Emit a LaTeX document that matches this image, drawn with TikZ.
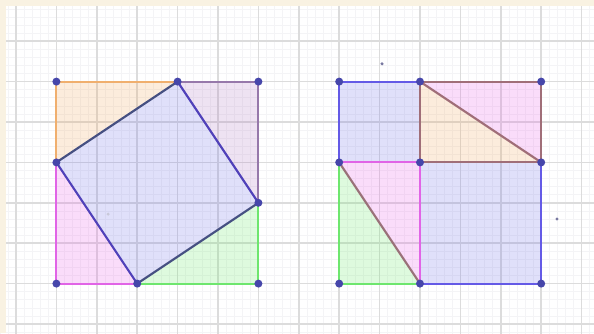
\documentclass[tikz,border=0pt]{standalone}

\definecolor{paper}{RGB}{249,242,226}
\definecolor{gridmajor}{RGB}{220,220,220}
\definecolor{gridminor}{RGB}{244,244,246}
\definecolor{lavender}{RGB}{100,100,230}
\definecolor{peach}{RGB}{240,160,80}
\definecolor{rose}{RGB}{230,80,230}
\definecolor{leaf}{RGB}{90,230,90}
\definecolor{plum}{RGB}{170,110,190}
\definecolor{orangeedge}{RGB}{240,175,110}
\definecolor{plumedge}{RGB}{150,120,170}
\definecolor{greenedge}{RGB}{110,230,110}
\definecolor{magentaedge}{RGB}{225,100,230}
\definecolor{violetedge}{RGB}{80,65,185}
\definecolor{slateedge}{RGB}{70,80,130}
\definecolor{blueedge}{RGB}{100,90,230}
\definecolor{brownedge}{RGB}{160,110,120}
\definecolor{dotblue}{RGB}{70,70,170}
\definecolor{speckgrey}{RGB}{120,120,160}

\tikzset{every picture/.style={line width=0.75pt}}
\tikzset{
  minorline/.style={draw=gridminor, line width=0.5pt},
  majorline/.style={draw=gridmajor, line width=1.1pt},
  piece/.style={fill opacity=0.2},
  edgeline/.style={line width=1.6pt, line cap=round, line join=round},
  vertex/.style={circle, fill=dotblue, inner sep=0pt, minimum size=6pt},
  speck/.style={circle, fill=speckgrey, inner sep=0pt, minimum size=2.5pt}
}

\begin{document}
\begin{tikzpicture}[x=30.3pt,y=30.3pt]

\useasboundingbox (-0.396,-0.223) rectangle (14.307,8.020);

% background and grid
\begin{scope}
\clip (-0.396,-0.223) rectangle (14.307,8.020);
\fill [white] (-0.396,-0.223) rectangle (14.307,8.020);
\draw [minorline, step=0.2] (-0.6,-0.6) grid (14.6,8.4);
\draw [majorline, step=1] (-1,-1) grid (15,9);
\end{scope}
\fill [paper] (-0.396,7.872) rectangle (14.307,8.020);
\fill [paper] (-0.396,-0.223) rectangle (-0.248,8.020);

% left square
\coordinate (l1) at (1,6);
\coordinate (l2) at (4,6);
\coordinate (l3) at (6,6);
\coordinate (l4) at (6,3);
\coordinate (l5) at (6,1);
\coordinate (l6) at (3,1);
\coordinate (l7) at (1,1);
\coordinate (l8) at (1,4);

% right square
\coordinate (r1) at (8,6);
\coordinate (r2) at (10,6);
\coordinate (r3) at (13,6);
\coordinate (r4) at (8,4);
\coordinate (r5) at (10,4);
\coordinate (r6) at (13,4);
\coordinate (r7) at (8,1);
\coordinate (r8) at (10,1);
\coordinate (r9) at (13,1);

% pieces
\fill [piece, fill=peach] (l1) -- (l2) -- (l8) -- cycle;
\fill [piece, fill=plum] (l2) -- (l3) -- (l4) -- cycle;
\fill [piece, fill=leaf] (l4) -- (l5) -- (l6) -- cycle;
\fill [piece, fill=rose] (l8) -- (l6) -- (l7) -- cycle;
\fill [piece, fill=lavender] (l2) -- (l4) -- (l6) -- (l8) -- cycle;

\fill [piece, fill=lavender] (r1) -- (r2) -- (r5) -- (r4) -- cycle;
\fill [piece, fill=rose] (r2) -- (r3) -- (r6) -- cycle;
\fill [piece, fill=peach] (r2) -- (r5) -- (r6) -- cycle;
\fill [piece, fill=rose] (r4) -- (r5) -- (r8) -- cycle;
\fill [piece, fill=leaf] (r4) -- (r8) -- (r7) -- cycle;
\fill [piece, fill=lavender] (r5) -- (r6) -- (r9) -- (r8) -- cycle;

% edges
\draw [edgeline, orangeedge] (l8) -- (l1) -- (l2);
\draw [edgeline, plumedge] (l2) -- (l3) -- (l4);
\draw [edgeline, greenedge] (l4) -- (l5) -- (l6);
\draw [edgeline, magentaedge] (l6) -- (l7) -- (l8);
\draw [edgeline, slateedge] (l8) -- (l2) (l6) -- (l4);
\draw [edgeline, violetedge] (l2) -- (l4) (l8) -- (l6);

\draw [edgeline, blueedge] (r4) -- (r1) -- (r2);
\draw [edgeline, blueedge] (r6) -- (r9) -- (r8);
\draw [edgeline, greenedge] (r4) -- (r7) -- (r8);
\draw [edgeline, magentaedge] (r4) -- (r5) -- (r8);
\draw [edgeline, brownedge] (r2) -- (r3) -- (r6) -- (r5) -- cycle;
\draw [edgeline, brownedge] (r2) -- (r6);
\draw [edgeline, brownedge!80!gray] (r4) -- (r8);

% points
\foreach \p in {l1,l2,l3,l4,l5,l6,l7,l8,r1,r2,r3,r4,r5,r6,r7,r8,r9}
  \node [vertex] (v-\p) at (\p) {};

\node [speck] (s1) at (9.06,6.44) {};
\node [speck] (s2) at (13.39,2.60) {};
\node [speck, fill=speckgrey!40] (s3) at (2.28,2.72) {};

\end{tikzpicture}
\end{document}
